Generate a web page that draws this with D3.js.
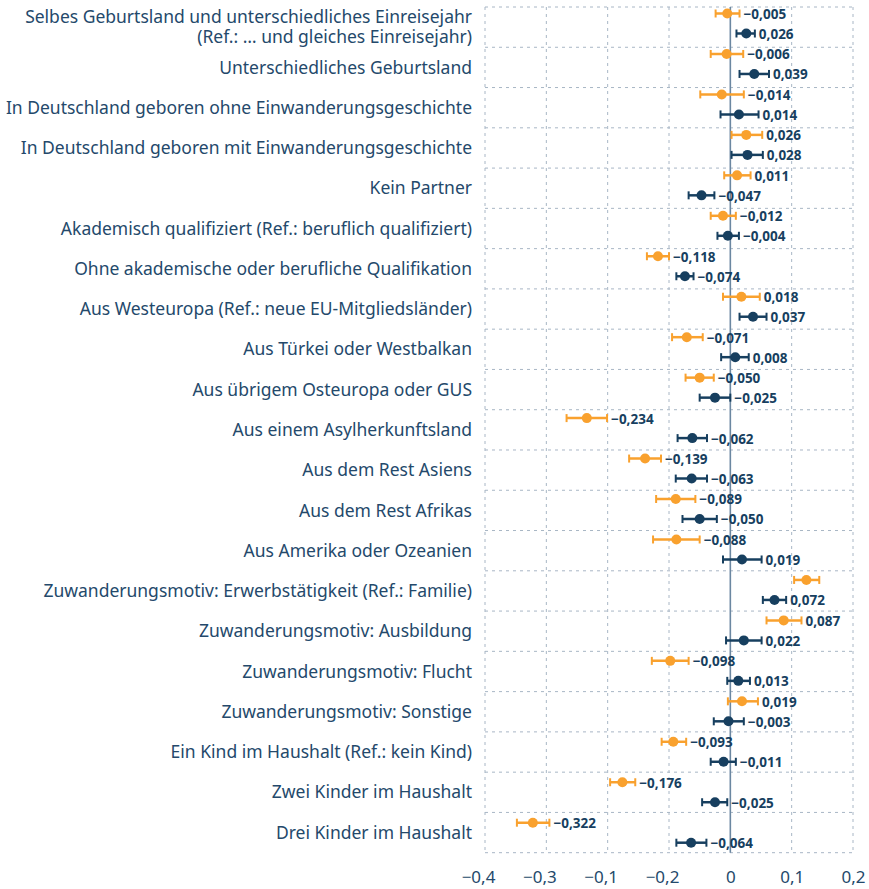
<!DOCTYPE html>
<html>
<head>
<meta charset="utf-8">
<script src="https://cdn.jsdelivr.net/npm/d3@7"></script>
<style>
  body { margin: 0; background: #fff; }
  svg { display: block; font-family: "Noto Sans", sans-serif; }
  .cat { fill: #24496b; font-size: 17.5px; }
  .val { font-size: 13.5px; font-weight: bold; fill: #173f5f; }
  .axis text { fill: #24496b; font-size: 17px; font-family: "Noto Sans", sans-serif; }
  .grid { stroke: #a8b6c5; stroke-width: 1; stroke-dasharray: 3,4; }
</style>
</head>
<body>
<script>
// categories, top to bottom
let categories = [
  "Selbes Geburtsland und unterschiedliches Einreisejahr\n(Ref.: … und gleiches Einreisejahr)",
  "Unterschiedliches Geburtsland",
  "In Deutschland geboren ohne Einwanderungsgeschichte",
  "In Deutschland geboren mit Einwanderungsgeschichte",
  "Kein Partner",
  "Akademisch qualifiziert (Ref.: beruflich qualifiziert)",
  "Ohne akademische oder berufliche Qualifikation",
  "Aus Westeuropa (Ref.: neue EU-Mitgliedsländer)",
  "Aus Türkei oder Westbalkan",
  "Aus übrigem Osteuropa oder GUS",
  "Aus einem Asylherkunftsland",
  "Aus dem Rest Asiens",
  "Aus dem Rest Afrikas",
  "Aus Amerika oder Ozeanien",
  "Zuwanderungsmotiv: Erwerbstätigkeit (Ref.: Familie)",
  "Zuwanderungsmotiv: Ausbildung",
  "Zuwanderungsmotiv: Flucht",
  "Zuwanderungsmotiv: Sonstige",
  "Ein Kind im Haushalt (Ref.: kein Kind)",
  "Zwei Kinder im Haushalt",
  "Drei Kinder im Haushalt"
];

// orange series: estimate and confidence interval
let orangeEst  = [-0.005, -0.006, -0.014, 0.026, 0.011, -0.012, -0.118, 0.018, -0.071, -0.050, -0.234, -0.139, -0.089, -0.088, 0.124, 0.087, -0.098, 0.019, -0.093, -0.176, -0.322];
let orangeLow  = [-0.024, -0.032, -0.049, 0.002, -0.010, -0.032, -0.136, -0.012, -0.095, -0.073, -0.267, -0.165, -0.121, -0.126, 0.104, 0.059, -0.128, -0.004, -0.112, -0.196, -0.348];
let orangeHigh = [0.015, 0.021, 0.022, 0.052, 0.033, 0.009, -0.100, 0.048, -0.045, -0.027, -0.201, -0.113, -0.057, -0.050, 0.145, 0.116, -0.068, 0.045, -0.072, -0.155, -0.295];
// this one has no value label in the original
let orangeUnlabeled = [14];

// dark blue series
let navyEst  = [0.026, 0.039, 0.014, 0.028, -0.047, -0.004, -0.074, 0.037, 0.008, -0.025, -0.062, -0.063, -0.050, 0.019, 0.072, 0.022, 0.013, -0.003, -0.011, -0.025, -0.064];
let navyLow  = [0.010, 0.015, -0.016, 0.002, -0.068, -0.021, -0.088, 0.015, -0.015, -0.050, -0.086, -0.089, -0.078, -0.012, 0.053, -0.007, -0.005, -0.027, -0.032, -0.046, -0.088];
let navyHigh = [0.040, 0.063, 0.046, 0.053, -0.026, 0.014, -0.060, 0.059, 0.030, 0.000, -0.038, -0.038, -0.022, 0.051, 0.091, 0.051, 0.032, 0.022, 0.009, -0.005, -0.039];

// x ticks and their labels (as printed)
let xTicks = [-0.4, -0.3, -0.2, -0.1, 0, 0.1, 0.2];
let xTickLabels = ["−0,4", "−0,3", "−0,1", "−0,2", "0", "0,1", "0,2"];

let width = 869, height = 889;
let orange = "#f9a12e", navy = "#173f5f";

let de = d3.formatLocale({decimal: ",", thousands: ".", grouping: [3], currency: ["", " €"], minus: "−"});
let fmt = de.format(".3f");

let xScale = d3.scaleLinear().domain([-0.4, 0.2]).range([485, 853]);
let yBand = d3.scaleBand().domain(categories).range([7, 852.7]);
// mark rows (orange on top, dark blue 20px lower)
let yMark = d3.scalePoint().domain(categories).range([13.5, 822.7]);

let svg = d3.select("body").append("svg")
  .attr("width", width)
  .attr("height", height);

// horizontal grid lines between categories
let hLines = categories.map(function(c) { return yBand(c); }).concat([yBand.range()[1]]);
svg.append("g").selectAll("line")
    .data(hLines)
  .enter().append("line")
    .attr("class", "grid")
    .attr("x1", xScale(-0.4)).attr("x2", xScale(0.2))
    .attr("y1", function(d) { return d; }).attr("y2", function(d) { return d; });

// vertical grid lines
svg.append("g").selectAll("line")
    .data(xTicks.filter(function(d) { return d !== 0; }))
  .enter().append("line")
    .attr("class", "grid")
    .attr("x1", function(d) { return xScale(d); }).attr("x2", function(d) { return xScale(d); })
    .attr("y1", yBand.range()[0]).attr("y2", yBand.range()[1]);

// zero line
svg.append("line")
  .attr("x1", xScale(0)).attr("x2", xScale(0))
  .attr("y1", yBand.range()[0]).attr("y2", yBand.range()[1])
  .attr("stroke", "#6b87a1")
  .attr("stroke-width", 1.6);

// x axis, no domain line or ticks
let xAxis = svg.append("g")
  .attr("class", "axis")
  .attr("transform", "translate(0," + 871 + ")")
  .call(d3.axisBottom(xScale)
    .tickValues(xTicks)
    .tickSize(0)
    .tickPadding(0)
    .tickFormat(function(d, i) { return xTickLabels[i]; }));
xAxis.select(".domain").remove();
xAxis.selectAll("text")
  .attr("dy", "0.71em")
  .attr("dx", function(d, i) { return xTickLabels[i].charAt(0) === "−" ? -7 : 0; });

// category labels
let cat = svg.append("g").selectAll("text")
    .data(categories)
  .enter().append("text")
    .attr("class", "cat")
    .attr("text-anchor", "end")
    .attr("x", 472)
    .attr("y", function(d) { return yBand(d) + yBand.bandwidth() / 2; });
cat.each(function(d) {
  let lines = d.split("\n");
  let t = d3.select(this);
  lines.forEach(function(l, i) {
    t.append("tspan")
      .attr("x", 472)
      .attr("dy", i === 0 ? (0.35 - (lines.length - 1) * 0.575) + "em" : "1.15em")
      .text(l);
  });
});

// one series: error bars, dots, value labels
function drawSeries(est, low, high, color, offset, unlabeled) {
  let data = categories.map(function(c, i) {
    return {cat: c, i: i, est: est[i], low: low[i], high: high[i]};
  });
  let g = svg.append("g");
  let rows = g.selectAll("g")
      .data(data)
    .enter().append("g")
      .attr("transform", function(d) { return "translate(0," + (yMark(d.cat) + offset) + ")"; });

  rows.append("line")
    .attr("x1", function(d) { return xScale(d.low); })
    .attr("x2", function(d) { return xScale(d.high); })
    .attr("stroke", color).attr("stroke-width", 2.5);
  rows.append("line")
    .attr("x1", function(d) { return xScale(d.low); })
    .attr("x2", function(d) { return xScale(d.low); })
    .attr("y1", -4).attr("y2", 4)
    .attr("stroke", color).attr("stroke-width", 2);
  rows.append("line")
    .attr("x1", function(d) { return xScale(d.high); })
    .attr("x2", function(d) { return xScale(d.high); })
    .attr("y1", -4).attr("y2", 4)
    .attr("stroke", color).attr("stroke-width", 2);
  rows.append("circle")
    .attr("cx", function(d) { return xScale(d.est); })
    .attr("r", 5)
    .attr("fill", color);
  rows.filter(function(d) { return unlabeled.indexOf(d.i) < 0; })
    .append("text")
      .attr("class", "val")
      .attr("x", function(d) { return xScale(d.high) + 4; })
      .attr("dy", "0.4em")
      .text(function(d) { return fmt(d.est); });
}

drawSeries(orangeEst, orangeLow, orangeHigh, orange, 0, orangeUnlabeled);
drawSeries(navyEst, navyLow, navyHigh, navy, 20, []);
</script>
</body>
</html>
